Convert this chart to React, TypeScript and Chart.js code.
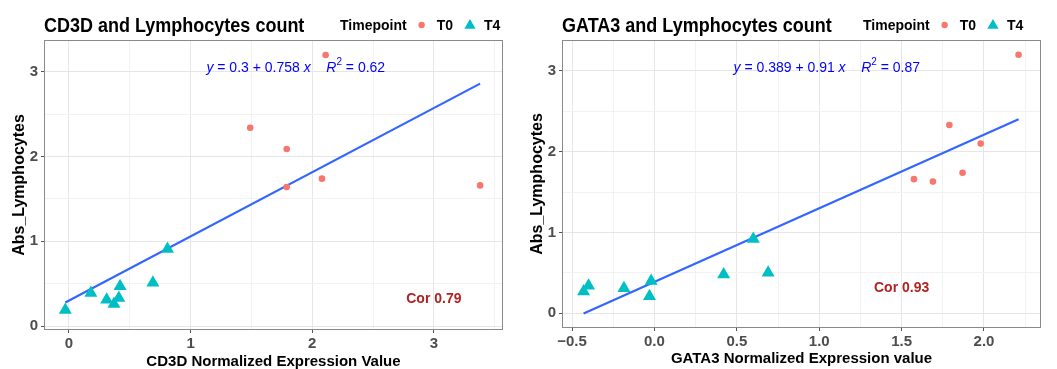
import React, { useEffect, useRef } from 'react';
import { Chart, registerables } from 'chart.js';

Chart.register(...registerables);

const FONT = '"Liberation Sans", Arial, Helvetica, sans-serif';
const SY = 1.1;

const TIMEPOINTS = ['T0', 'T4'];
const T0_COLOR = '#F8766D';
const T4_COLOR = '#00BFC4';
const FIT_COLOR = '#3366FF';
const COR_COLOR = '#B22222';
const EQ_COLOR = '#0000FF';

// ---- CD3D panel data ----
const CD3D_T0_X = [1.49, 1.79, 2.11, 2.08, 3.38, 1.79];
const CD3D_T0_Y = [2.34, 2.09, 3.2, 1.74, 1.66, 1.64];
const CD3D_T4_X = [-0.03, 0.18, 0.31, 0.37, 0.41, 0.42, 0.69, 0.81];
const CD3D_T4_Y = [0.19, 0.39, 0.31, 0.26, 0.33, 0.47, 0.51, 0.91];
const CD3D_FIT = [0.3, 0.758]; // intercept, slope
const CD3D_STATS = ['0.3', '0.758', '0.62', '0.79']; // intercept, slope, R2, cor
const CD3D_X_TICKS = [0, 1, 2, 3];
const CD3D_X_TICK_LABELS = ['0', '1', '2', '3'];

// ---- GATA3 panel data ----
const GATA3_T0_X = [2.21, 1.79, 1.98, 1.87, 1.575, 1.69];
const GATA3_T0_Y = [3.2, 2.33, 2.1, 1.74, 1.66, 1.63];
const GATA3_T4_X = [-0.43, -0.4, -0.185, -0.03, -0.02, 0.42, 0.6, 0.69];
const GATA3_T4_Y = [0.27, 0.34, 0.31, 0.21, 0.4, 0.48, 0.92, 0.5];
const GATA3_FIT = [0.389, 0.91];
const GATA3_STATS = ['0.389', '0.91', '0.87', '0.93'];
const GATA3_X_TICKS = [-0.5, 0, 0.5, 1, 1.5, 2];
const GATA3_X_TICK_LABELS = ['\u22120.5', '0.0', '0.5', '1.0', '1.5', '2.0'];

const Y_TICKS = [0, 1, 2, 3];
const Y_TICK_LABELS = ['0', '1', '2', '3'];

type Cfg = {
  width: number;
  title: string;
  xTitle: string;
  t0x: number[]; t0y: number[]; t4x: number[]; t4y: number[];
  fit: number[];
  stats: string[];
  xTicks: number[]; xTickLabels: string[];
  xMin: number; xMax: number; yMin: number; yMax: number;
  eqPos: number[]; corPos: number[];
  padRight: number; yAxisWidth: number; xAxisHeight: number;
  yTitlePad: number; xTitlePad: number; legendX: number;
};

const PANELS: Cfg[] = [
  {
    width: 527,
    title: 'CD3D and Lymphocytes count',
    xTitle: 'CD3D Normalized Expression Value',
    t0x: CD3D_T0_X, t0y: CD3D_T0_Y, t4x: CD3D_T4_X, t4y: CD3D_T4_Y,
    fit: CD3D_FIT, stats: CD3D_STATS,
    xTicks: CD3D_X_TICKS, xTickLabels: CD3D_X_TICK_LABELS,
    xMin: -0.197, xMax: 3.56, yMin: -0.035, yMax: 3.365,
    eqPos: [1.13, 3.0], corPos: [3.0, 0.32],
    padRight: 25, yAxisWidth: 45, xAxisHeight: 40,
    yTitlePad: 12, xTitlePad: 0, legendX: 340,
  },
  {
    width: 530,
    title: 'GATA3 and Lymphocytes count',
    xTitle: 'GATA3 Normalized Expression value',
    t0x: GATA3_T0_X, t0y: GATA3_T0_Y, t4x: GATA3_T4_X, t4y: GATA3_T4_Y,
    fit: GATA3_FIT, stats: GATA3_STATS,
    xTicks: GATA3_X_TICKS, xTickLabels: GATA3_X_TICK_LABELS,
    xMin: -0.555, xMax: 2.34, yMin: -0.17, yMax: 3.37,
    eqPos: [0.48, 2.99], corPos: [1.5, 0.32],
    padRight: 17, yAxisWidth: 36, xAxisHeight: 42,
    yTitlePad: 3, xTitlePad: 2.5, legendX: 336,
  },
];

const near = (a: number, b: number) => Math.abs(a - b) < 1e-6;

function buildTicks(majors: number[], min: number, max: number) {
  const step = majors[1] - majors[0];
  const all: number[] = [...majors];
  for (let i = -1; i < majors.length; i++) {
    const v = majors[0] + (i + 0.5) * step;
    if (v >= min && v <= max) all.push(v);
  }
  return all.filter((v) => v >= min && v <= max).sort((a, b) => a - b).map((value) => ({ value }));
}

function isMajor(v: number, majors: number[]) {
  return majors.some((m) => near(m, v));
}

function drawText(ctx: CanvasRenderingContext2D, s: string, x: number, y: number, font: string, color: string, align: CanvasTextAlign = 'left', baseline: CanvasTextBaseline = 'alphabetic') {
  ctx.save();
  ctx.font = font;
  ctx.fillStyle = color;
  ctx.textAlign = align;
  ctx.textBaseline = baseline;
  ctx.translate(x, y);
  ctx.scale(1, SY);
  ctx.fillText(s, 0, 0);
  ctx.restore();
}

function triangle(ctx: CanvasRenderingContext2D, x: number, y: number, r: number) {
  ctx.beginPath();
  for (let i = 0; i < 3; i++) {
    const a = (i * 2 * Math.PI) / 3;
    const px = x + Math.sin(a) * r;
    const py = y - Math.cos(a) * r;
    if (i === 0) ctx.moveTo(px, py); else ctx.lineTo(px, py);
  }
  ctx.closePath();
  ctx.fill();
}

function makePlugin(cfg: Cfg) {
  return {
    id: 'decor',
    beforeDatasetsDraw(chart: any) {
      const ctx: CanvasRenderingContext2D = chart.ctx;
      const xs = chart.scales.x;
      const ys = chart.scales.y;
      // regression equation
      const parts = [
        { t: 'y', it: true },
        { t: ' = ' + cfg.stats[0] + ' + ' + cfg.stats[1] + ' ' },
        { t: 'x', it: true },
        { t: '    ' },
        { t: 'R', it: true },
        { t: '2', sup: true },
        { t: ' = ' + cfg.stats[2] },
      ] as { t: string; it?: boolean; sup?: boolean }[];
      let cx = xs.getPixelForValue(cfg.eqPos[0]);
      const cy = ys.getPixelForValue(cfg.eqPos[1]);
      for (const p of parts) {
        const size = p.sup ? 10 : 14;
        const font = `${p.it ? 'italic ' : ''}${size}px ${FONT}`;
        drawText(ctx, p.t, cx, p.sup ? cy - 7 : cy, font, EQ_COLOR);
        ctx.save();
        ctx.font = font;
        cx += ctx.measureText(p.t).width;
        ctx.restore();
      }
      // correlation
      drawText(ctx, 'Cor ' + cfg.stats[3], xs.getPixelForValue(cfg.corPos[0]), ys.getPixelForValue(cfg.corPos[1]), `bold 14px ${FONT}`, COR_COLOR, 'center', 'middle');
    },
    afterDraw(chart: any) {
      const ctx: CanvasRenderingContext2D = chart.ctx;
      const a = chart.chartArea;
      // panel border
      ctx.save();
      ctx.strokeStyle = '#8A8A8A';
      ctx.lineWidth = 1;
      ctx.strokeRect(a.left - 0.5, a.top - 0.5, a.right - a.left + 1, a.bottom - a.top + 1);
      ctx.restore();
      // title
      drawText(ctx, cfg.title, a.left - 1, 32, `bold 18px ${FONT}`, '#000000');
      // legend
      const lf = `bold 14px ${FONT}`;
      let x = cfg.legendX;
      drawText(ctx, 'Timepoint', x, 30, lf, '#000000');
      ctx.save();
      ctx.font = lf;
      const wTitle = ctx.measureText('Timepoint').width;
      const wT0 = ctx.measureText(TIMEPOINTS[0]).width;
      ctx.restore();
      x += wTitle + 15;
      ctx.save();
      ctx.fillStyle = T0_COLOR;
      ctx.beginPath();
      ctx.arc(x, 25, 3.2, 0, Math.PI * 2);
      ctx.fill();
      ctx.restore();
      x += 15;
      drawText(ctx, TIMEPOINTS[0], x, 30, lf, '#000000');
      x += wT0 + 17;
      ctx.save();
      ctx.fillStyle = T4_COLOR;
      triangle(ctx, x, 25.5, 6.5);
      ctx.restore();
      x += 14;
      drawText(ctx, TIMEPOINTS[1], x, 30, lf, '#000000');
    },
  };
}

function Panel({ cfg }: { cfg: Cfg }) {
  const ref = useRef<HTMLCanvasElement>(null);
  useEffect(() => {
    const allX = [...cfg.t0x, ...cfg.t4x];
    const x0 = Math.min(...allX);
    const x1 = Math.max(...allX);
    const fitLine = [
      { x: x0, y: cfg.fit[0] + cfg.fit[1] * x0 },
      { x: x1, y: cfg.fit[0] + cfg.fit[1] * x1 },
    ];
    const gridColor = (majors: number[]) => (c: any) => (c.tick && isMajor(c.tick.value, majors) ? '#E6E6E6' : '#F2F2F2');
    const tickColor = (majors: number[]) => (c: any) => (c.tick && isMajor(c.tick.value, majors) ? '#555555' : 'rgba(0,0,0,0)');
    const labelFor = (majors: number[], labels: string[]) => (v: any) => {
      const i = majors.findIndex((m) => near(m, Number(v)));
      return i >= 0 ? labels[i] : '';
    };
    const chart = new Chart(ref.current as HTMLCanvasElement, {
      type: 'scatter',
      data: {
        datasets: [
          {
            label: TIMEPOINTS[0],
            data: cfg.t0x.map((x, i) => ({ x, y: cfg.t0y[i] })),
            backgroundColor: T0_COLOR,
            borderWidth: 0,
            pointStyle: 'circle',
            pointRadius: 3.3,
          },
          {
            label: TIMEPOINTS[1],
            data: cfg.t4x.map((x, i) => ({ x, y: cfg.t4y[i] })),
            backgroundColor: T4_COLOR,
            borderWidth: 0,
            pointStyle: 'triangle',
            pointRadius: 7.5,
          },
          {
            label: 'fit',
            data: fitLine,
            showLine: true,
            borderColor: FIT_COLOR,
            borderWidth: 2.2,
            pointRadius: 0,
            fill: false,
          } as any,
        ],
      },
      options: {
        animation: false,
        responsive: false,
        events: [],
        layout: { padding: { left: 0, top: 41, right: cfg.padRight, bottom: 0 } },
        plugins: { legend: { display: false }, tooltip: { enabled: false }, title: { display: false } },
        scales: {
          x: {
            type: 'linear',
            min: cfg.xMin,
            max: cfg.xMax,
            afterBuildTicks: (s: any) => { s.ticks = buildTicks(cfg.xTicks, cfg.xMin, cfg.xMax); },
            afterFit: (s: any) => { s.height = cfg.xAxisHeight; },
            ticks: {
              autoSkip: false, maxRotation: 0, minRotation: 0, padding: 2,
              color: '#4D4D4D', font: { family: FONT, size: 15, weight: 'bold' },
              callback: labelFor(cfg.xTicks, cfg.xTickLabels),
            },
            grid: { color: gridColor(cfg.xTicks), tickColor: tickColor(cfg.xTicks), tickLength: 4, drawTicks: true },
            border: { display: false },
            title: {
              display: true, text: cfg.xTitle, color: '#000000',
              font: { family: FONT, size: 15, weight: 'bold', lineHeight: 1 },
              padding: { top: 0, bottom: cfg.xTitlePad },
            },
          },
          y: {
            type: 'linear',
            min: cfg.yMin,
            max: cfg.yMax,
            afterBuildTicks: (s: any) => { s.ticks = buildTicks(Y_TICKS, cfg.yMin, cfg.yMax); },
            afterFit: (s: any) => { s.width = cfg.yAxisWidth; },
            ticks: {
              autoSkip: false, padding: 3,
              color: '#4D4D4D', font: { family: FONT, size: 15, weight: 'bold' },
              callback: labelFor(Y_TICKS, Y_TICK_LABELS),
            },
            grid: { color: gridColor(Y_TICKS), tickColor: tickColor(Y_TICKS), tickLength: 4, drawTicks: true },
            border: { display: false },
            title: {
              display: true, text: 'Abs_Lymphocytes', color: '#000000',
              font: { family: FONT, size: 16, weight: 'bold', lineHeight: 1 },
              padding: { top: cfg.yTitlePad, bottom: 0 },
            },
          },
        },
      } as any,
      plugins: [makePlugin(cfg)],
    });
    return () => chart.destroy();
  }, [cfg]);
  return <canvas ref={ref} width={cfg.width} height={369} style={{ display: 'block', width: cfg.width, height: 369 }} />;
}

export default function App() {
  return (
    <div style={{ position: 'absolute', left: 0, top: 0, width: 1057, height: 369, display: 'flex', background: '#ffffff' }}>
      {PANELS.map((p, i) => (
        <Panel key={i} cfg={p} />
      ))}
    </div>
  );
}
